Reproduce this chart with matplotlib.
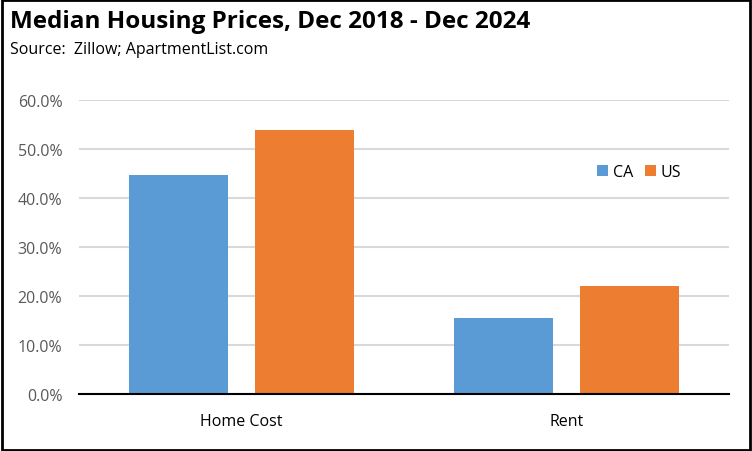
import matplotlib.pyplot as plt
from matplotlib.patches import Rectangle
from matplotlib.ticker import PercentFormatter
import numpy as np

plt.rcParams['font.family'] = ['Open Sans', 'DejaVu Sans']

categories = ['Home Cost', 'Rent']
ca_values = np.array([44.7, 15.5])
us_values = np.array([53.9, 22.1])
y_ticks = [0, 10, 20, 30, 40, 50, 60]

fig = plt.figure(figsize=(7.52, 4.52), dpi=100)
ax = fig.add_axes([79 / 752, 57 / 452, 650 / 752, 294 / 452])

x = np.arange(len(categories))
w = 0.305
off = 0.194
ax.bar(x - off, ca_values, w, color='#5B9BD5', label='CA', zorder=3)
ax.bar(x + off, us_values, w, color='#ED7D31', label='US', zorder=3)

ax.set_xlim(-0.5, 1.5)
ax.set_ylim(0, 60)
ax.set_yticks(y_ticks)
ax.yaxis.set_major_formatter(PercentFormatter(decimals=1))
ax.set_xticks(x)
ax.set_xticklabels(categories)
ax.grid(axis='y', color='#D9D9D9', linewidth=1.5, zorder=0)
ax.tick_params(axis='both', length=0, labelsize=11.5, colors='#595959')
ax.tick_params(axis='x', pad=14, colors='black')
ax.tick_params(axis='y', pad=12)
for s in ['top', 'right', 'left']:
    ax.spines[s].set_visible(False)
ax.spines['bottom'].set_color('black')
ax.spines['bottom'].set_linewidth(1.5)
ax.spines['bottom'].set_zorder(4)

ax.legend(loc='center left', bbox_to_anchor=(0.775, 0.755), ncol=2, frameon=False,
          fontsize=11.5, handlelength=0.7, handleheight=0.7, handletextpad=0.3,
          columnspacing=0.7)

fig.text(10 / 752, 1 - 22 / 452, 'Median Housing Prices, Dec 2018 - Dec 2024',
         fontsize=17.5, fontweight='bold', va='center', ha='left')
fig.text(10 / 752, 1 - 50 / 452, 'Source:  Zillow; ApartmentList.com',
         fontsize=11.5, va='center', ha='left')

fig.patches.append(Rectangle((0.002, 0.003), 0.995, 0.994, transform=fig.transFigure,
                             fill=False, edgecolor='black', linewidth=2))

fig.savefig('out.png', dpi=100)
